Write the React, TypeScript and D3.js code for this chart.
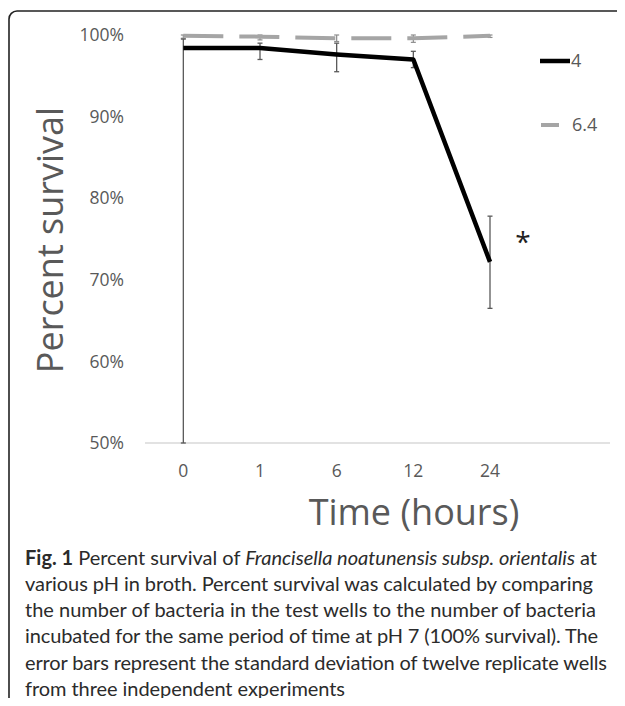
import * as d3 from 'd3';
import React, { useRef, useEffect } from 'react';

const W = 625;
const H = 706;

const hours = ['0', '1', '6', '12', '24'];
const slots = [...hours, ''];
const yTicks = [50, 60, 70, 80, 90, 100];

const ph4 = [98.4, 98.4, 97.6, 97.0, 72.2];
const ph4ErrHigh = [1.1, 0.6, 1.4, 1.0, 5.6];
const ph4ErrLow = [48.4, 1.4, 2.1, 1.0, 5.7];

const ph64 = [99.9, 99.8, 99.6, 99.6, 99.9];
const ph64Err = [0.3, 0.4, 0.4, 0.5, 0.2];

const captionLines = [
  'various pH in broth. Percent survival was calculated by comparing',
  'the number of bacteria in the test wells to the number of bacteria',
  'incubated for the same period of time at pH 7 (100% survival). The',
  'error bars represent the standard deviation of twelve replicate wells',
  'from three independent experiments',
];
const captionWidths = [568, 571, 573, 582, 320];

const App = () => {
  const ref = useRef<HTMLDivElement>(null);

  useEffect(() => {
    if (!ref.current) return;
    d3.select(ref.current).selectAll('*').remove();

    const svg = d3
      .select(ref.current)
      .append('svg')
      .attr('width', W)
      .attr('height', H)
      .style('display', 'block')
      .style('font-family', '"Open Sans", sans-serif');

    // frame with rounded corner
    svg
      .append('path')
      .attr('d', 'M9,706 V19 A8,8 0 0 1 17,11 H630')
      .attr('fill', 'none')
      .attr('stroke', '#222')
      .attr('stroke-width', 1.6);

    const x = d3.scaleBand().domain(slots).range([145, 605]);
    const cx = (h: string) => (x(h) as number) + x.bandwidth() / 2;
    const y = d3.scaleLinear().domain([50, 100]).range([443, 35]).clamp(true);

    // baseline
    svg
      .append('line')
      .attr('x1', 145)
      .attr('x2', 610)
      .attr('y1', y(50))
      .attr('y2', y(50))
      .attr('stroke', '#d9d9d9')
      .attr('stroke-width', 1.3);

    // y ticks
    svg
      .append('g')
      .selectAll('text')
      .data(yTicks)
      .join('text')
      .attr('x', 124)
      .attr('y', (d) => y(d))
      .attr('dy', '0.35em')
      .attr('text-anchor', 'end')
      .attr('font-size', 17.5)
      .attr('fill', '#595959')
      .text((d) => `${d}%`);

    // x ticks
    svg
      .append('g')
      .selectAll('text')
      .data(hours)
      .join('text')
      .attr('x', (d) => cx(d))
      .attr('y', 471)
      .attr('dy', '0.35em')
      .attr('text-anchor', 'middle')
      .attr('font-size', 17.5)
      .attr('fill', '#595959')
      .text((d) => d);

    // axis titles
    svg
      .append('text')
      .attr('x', 414)
      .attr('y', 525)
      .attr('text-anchor', 'middle')
      .attr('font-size', 36)
      .attr('fill', '#595959')
      .text('Time (hours)');

    svg
      .append('text')
      .attr('transform', 'translate(63,240) rotate(-90)')
      .attr('text-anchor', 'middle')
      .attr('font-size', 36)
      .attr('fill', '#595959')
      .text('Percent survival');

    const line = d3
      .line<number>()
      .x((_, i) => cx(hours[i]))
      .y((d) => y(d));

    // pH 6.4 error bars
    const eb64 = svg.append('g').attr('stroke', '#8c8c8c').attr('stroke-width', 1.2);
    ph64.forEach((v, i) => {
      const px = cx(hours[i]);
      eb64.append('line').attr('x1', px).attr('x2', px).attr('y1', y(v + ph64Err[i])).attr('y2', y(v - ph64Err[i]));
      [v + ph64Err[i], v - ph64Err[i]].forEach((e) =>
        eb64.append('line').attr('x1', px - 2.5).attr('x2', px + 2.5).attr('y1', y(e)).attr('y2', y(e))
      );
    });

    // pH 4 error bars
    const eb4 = svg.append('g').attr('stroke', '#595959').attr('stroke-width', 1.3);
    ph4.forEach((v, i) => {
      const px = cx(hours[i]);
      const hi = v + ph4ErrHigh[i];
      const lo = v - ph4ErrLow[i];
      eb4.append('line').attr('x1', px).attr('x2', px).attr('y1', y(hi)).attr('y2', y(lo));
      [hi, lo].forEach((e) =>
        eb4.append('line').attr('x1', px - 2.5).attr('x2', px + 2.5).attr('y1', y(e)).attr('y2', y(e))
      );
    });

    // pH 6.4 dashed line
    svg
      .append('path')
      .attr('d', line(ph64))
      .attr('fill', 'none')
      .attr('stroke', '#a5a5a5')
      .attr('stroke-width', 4)
      .attr('stroke-dasharray', '40 16');

    // pH 4 line
    svg
      .append('path')
      .attr('d', line(ph4))
      .attr('fill', 'none')
      .attr('stroke', '#000')
      .attr('stroke-width', 4.5)
      .attr('stroke-linejoin', 'round');

    // significance mark
    svg
      .append('text')
      .attr('x', 523)
      .attr('y', 252)
      .attr('text-anchor', 'middle')
      .attr('font-size', 28)
      .attr('fill', '#222')
      .text('*');

    // legend
    const legend = svg.append('g');
    legend.append('line').attr('x1', 540).attr('x2', 570).attr('y1', 61).attr('y2', 61).attr('stroke', '#000').attr('stroke-width', 4.5);
    legend.append('text').attr('x', 571).attr('y', 61).attr('dy', '0.35em').attr('font-size', 18).attr('fill', '#595959').text('4');
    legend.append('line').attr('x1', 541).attr('x2', 559).attr('y1', 125).attr('y2', 125).attr('stroke', '#a5a5a5').attr('stroke-width', 4);
    legend.append('text').attr('x', 572).attr('y', 125).attr('dy', '0.35em').attr('font-size', 18).attr('fill', '#595959').text('6.4');

    // caption
    const cap = svg.append('g').attr('font-family', 'Lato, sans-serif').attr('font-size', 20).attr('fill', '#2b2b2b');
    const first = cap.append('text').attr('x', 25).attr('y', 565).attr('textLength', 572).attr('lengthAdjust', 'spacing');
    first.append('tspan').attr('font-weight', 'bold').text('Fig. 1');
    first.append('tspan').text(' Percent survival of ');
    first.append('tspan').attr('font-style', 'italic').text('Francisella noatunensis subsp. orientalis');
    first.append('tspan').text(' at');

    captionLines.forEach((t, i) => {
      cap
        .append('text')
        .attr('x', 25)
        .attr('y', 591 + i * 26.2)
        .attr('textLength', captionWidths[i])
        .attr('lengthAdjust', 'spacing')
        .text(t);
    });
  }, []);

  return <div ref={ref} style={{ margin: -8 }}></div>;
};

export default App;
